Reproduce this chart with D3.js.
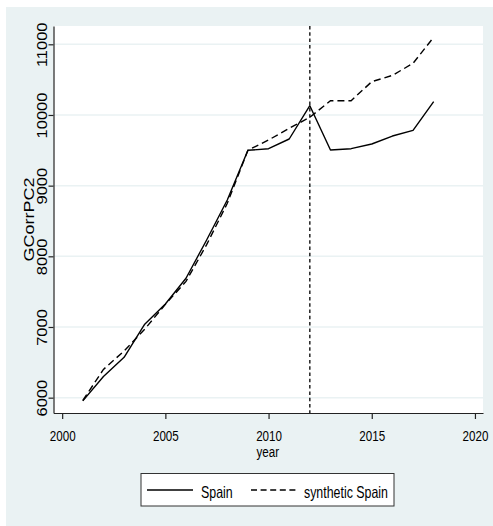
<!DOCTYPE html>
<html>
<head>
<meta charset="utf-8">
<script src="https://cdn.jsdelivr.net/npm/d3@7"></script>
<style>
  html, body { margin: 0; padding: 0; background: #ffffff; }
  svg { display: block; }
  text { font-family: "Liberation Sans", Arial, sans-serif; fill: #000; }
</style>
</head>
<body>
<script>
// Yearly values for Spain and its synthetic control
const years = [2001, 2002, 2003, 2004, 2005, 2006, 2007, 2008, 2009,
               2010, 2011, 2012, 2013, 2014, 2015, 2016, 2017, 2018];
const spain = [5955, 6300, 6571, 7040, 7325, 7690, 8231, 8797, 9500,
               9523, 9660, 10131, 9505, 9523, 9589, 9702, 9783, 10188];
const synthSpain = [5960, 6400, 6660, 6970, 7320, 7645, 8165, 8750, 9500,
                    9646, 9811, 9967, 10202, 10202, 10471, 10560, 10731, 11100];
const xTicks = [2000, 2005, 2010, 2015, 2020];
const yTicks = [6000, 7000, 8000, 9000, 10000, 11000];
const treatmentYear = 2012;
const seriesNames = ["Spain", "synthetic Spain"];
const xTitle = "year";
const yTitle = "GCorrPC2";

const W = 493, H = 526;
const plot = { left: 53.5, right: 483, top: 26, bottom: 413 };
const bg = "#eaf2f3";
const squeeze = 0.75;   // horizontal condensing of upright text

const svg = d3.select("body").append("svg")
  .attr("width", W).attr("height", H);

// graph region and plot region
svg.append("rect").attr("x", 6).attr("y", 7)
  .attr("width", W - 6).attr("height", H - 7).attr("fill", bg);
svg.append("rect").attr("x", plot.left).attr("y", plot.top)
  .attr("width", plot.right - plot.left).attr("height", plot.bottom - plot.top)
  .attr("fill", "#ffffff");

const x = d3.scaleLinear().domain([1999.58, 2020.39]).range([plot.left, plot.right]);
const y = d3.scaleLinear().domain([5783, 11259]).range([plot.bottom, plot.top]);

// horizontal grid lines
svg.append("g").selectAll("line").data(yTicks).join("line")
  .attr("x1", plot.left).attr("x2", plot.right)
  .attr("y1", d => y(d)).attr("y2", d => y(d))
  .attr("stroke", bg).attr("stroke-width", 1.5);

// x axis
const gx = svg.append("g")
  .attr("transform", `translate(0,${plot.bottom})`)
  .call(d3.axisBottom(x).tickValues(xTicks).tickFormat(d3.format("d"))
        .tickSize(6).tickSizeOuter(0));
gx.select(".domain").attr("stroke", "#222").attr("stroke-width", 1.2);
gx.selectAll(".tick line").attr("stroke", "#222").attr("stroke-width", 1.2);
gx.selectAll(".tick text")
  .attr("y", 0).attr("dy", 0)
  .attr("transform", `translate(0,27.5) scale(${squeeze},1)`)
  .attr("font-size", 15.5).attr("fill", "#000")
  .attr("font-family", '"Liberation Sans", Arial, sans-serif');

// y axis with upright-rotated labels
const gy = svg.append("g")
  .attr("transform", `translate(${plot.left},0)`)
  .call(d3.axisLeft(y).tickValues(yTicks).tickFormat(d3.format("d"))
        .tickSize(5).tickSizeOuter(0));
gy.select(".domain").attr("stroke", "#222").attr("stroke-width", 1.2);
gy.selectAll(".tick line").attr("stroke", "#222").attr("stroke-width", 1.2);
gy.selectAll(".tick text")
  .attr("x", 0).attr("y", 0).attr("dy", 0)
  .attr("text-anchor", "middle")
  .attr("transform", "translate(-7,0) rotate(-90) scale(1,0.85)")
  .attr("font-size", 16.5).attr("fill", "#000")
  .attr("font-family", '"Liberation Sans", Arial, sans-serif');

// axis titles
svg.append("text")
  .attr("text-anchor", "middle")
  .attr("transform", `translate(${(plot.left + plot.right) / 2 - 0.5},457) scale(${squeeze},1)`)
  .attr("font-size", 15.5).text(xTitle);
svg.append("text")
  .attr("text-anchor", "middle")
  .attr("transform", `translate(33.5,${(plot.top + plot.bottom) / 2}) rotate(-90) scale(1,0.85)`)
  .attr("font-size", 18).text(yTitle);

// series lines
const line = d3.line().x((d, i) => x(years[i])).y(d => y(d));
svg.append("path").datum(spain)
  .attr("d", line).attr("fill", "none")
  .attr("stroke", "#000").attr("stroke-width", 1.4)
  .attr("stroke-linejoin", "round");
svg.append("path").datum(synthSpain)
  .attr("d", line).attr("fill", "none")
  .attr("stroke", "#000").attr("stroke-width", 1.4)
  .attr("stroke-dasharray", "7,4");

// treatment year marker
svg.append("line")
  .attr("x1", x(treatmentYear)).attr("x2", x(treatmentYear))
  .attr("y1", plot.top).attr("y2", plot.bottom)
  .attr("stroke", "#000").attr("stroke-width", 1.3)
  .attr("stroke-dasharray", "3.5,2.8");

// legend
const lg = svg.append("g");
lg.append("rect").attr("x", 141).attr("y", 473.5)
  .attr("width", 253).attr("height", 32.5)
  .attr("fill", "#ffffff").attr("stroke", "#333").attr("stroke-width", 1);
const items = [
  { name: seriesNames[0], x0: 147, x1: 193, tx: 201, dash: null },
  { name: seriesNames[1], x0: 251, x1: 297, tx: 304, dash: "6,3.6" }
];
items.forEach(it => {
  lg.append("line")
    .attr("x1", it.x0).attr("x2", it.x1).attr("y1", 490).attr("y2", 490)
    .attr("stroke", "#000").attr("stroke-width", 1.3)
    .attr("stroke-dasharray", it.dash);
  lg.append("text")
    .attr("transform", `translate(${it.tx},497.5) scale(${squeeze},1)`)
    .attr("font-size", 16.5).text(it.name);
});
</script>
</body>
</html>
